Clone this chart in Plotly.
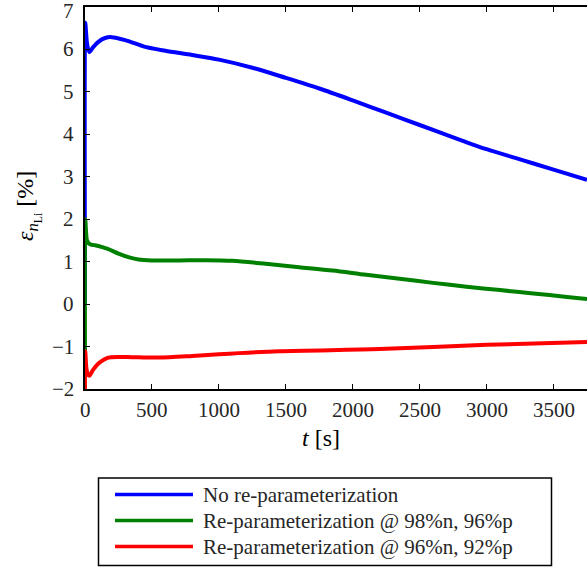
import plotly.graph_objects as go

# Time samples [s] and error in lithium inventory [%] for each case
t_blue = [0, 2, 8, 15, 32, 60, 100, 150, 200, 300, 450, 600, 800, 1000, 1250,
          1500, 1750, 2000, 2250, 2500, 2750, 3000, 3250, 3500, 3750]
e_blue = [0.0, 6.63, 6.4, 6.15, 5.94, 6.05, 6.18, 6.27, 6.29, 6.22, 6.06, 5.97, 5.87,
          5.76, 5.57, 5.33, 5.08, 4.80, 4.51, 4.22, 3.93, 3.65, 3.41, 3.17, 2.93]

t_green = [0, 2, 8, 15, 37, 70, 100, 170, 250, 330, 400, 500, 700, 900, 1100,
           1350, 1600, 1850, 2100, 2350, 2600, 2850, 3100, 3350, 3600, 3750]
e_green = [-1.5, 2.0, 1.7, 1.5, 1.41, 1.39, 1.37, 1.3, 1.19, 1.1, 1.05, 1.03, 1.03,
           1.035, 1.02, 0.95, 0.87, 0.79, 0.69, 0.60, 0.50, 0.41, 0.33, 0.25, 0.17, 0.12]

t_red = [0, 2, 10, 20, 32, 60, 100, 140, 175, 250, 350, 550, 800, 1000, 1450,
         2200, 3000, 3750]
e_red = [-3.0, -1.11, -1.5, -1.65, -1.69, -1.55, -1.40, -1.31, -1.26, -1.245, -1.25,
         -1.26, -1.22, -1.18, -1.11, -1.06, -0.96, -0.89]

names = ["No re-parameterization",
         "Re-parameterization @ 98%n, 96%p",
         "Re-parameterization @ 96%n, 92%p"]
colors = ["#0000FF", "#008000", "#FF0000"]

x_ticks = [0, 500, 1000, 1500, 2000, 2500, 3000, 3500]
y_ticks = [-2, -1, 0, 1, 2, 3, 4, 5, 6, 7]
x_title = "<i>t</i> [s]"
y_title = "<i>ε</i><sub><i>n</i><sub>Li</sub></sub> [%]"

FONT = "Liberation Serif"
TXT = "#262626"

W, H = 587, 567
ML, MT, MB, MR = 85, 7, 178, 0
PW, PH = W - ML - MR, H - MT - MB


def px_x(px):
    return (px - ML) / PW


def px_y(py):
    return (H - MB - py) / PH


fig = go.Figure()
for tt, ee, nm, col in zip([t_blue, t_green, t_red], [e_blue, e_green, e_red], names, colors):
    fig.add_trace(go.Scatter(x=tt, y=ee, mode="lines", name=nm,
                             line=dict(color=col, width=4, shape="spline", smoothing=0.8),
                             showlegend=False))

axis_common = dict(ticks="inside", ticklen=5, tickwidth=1, tickcolor="black",
                   showline=True, linecolor="black", linewidth=1.5,
                   showgrid=False, zeroline=False, automargin=False,
                   showticklabels=False)

fig.update_layout(
    template="none",
    width=W, height=H,
    margin=dict(l=ML, r=MR, t=MT, b=MB, autoexpand=False),
    paper_bgcolor="white", plot_bgcolor="white",
    font=dict(family=FONT, size=21, color=TXT),
    xaxis=dict(range=[0, 3750], tickvals=x_ticks, mirror="ticks", **axis_common),
    yaxis=dict(range=[-2, 7], tickvals=y_ticks, mirror=False, **axis_common),
)

# Tick labels written as text next to the axes
for v in x_ticks:
    fig.add_annotation(xref="x", yref="paper", x=v, y=px_y(409.5),
                       xanchor="center", yanchor="middle", showarrow=False,
                       text=str(v), font=dict(family=FONT, size=21, color=TXT))
for v in y_ticks:
    label = str(v).replace("-", "\u2212")
    fig.add_annotation(xref="paper", yref="y", x=px_x(76), y=v,
                       xanchor="right", yanchor="middle", showarrow=False,
                       yshift=-4 if v == max(y_ticks) else 0,
                       text=label, font=dict(family=FONT, size=21, color=TXT))

# Axis titles
fig.add_annotation(xref="paper", yref="paper", x=px_x(321), y=px_y(438),
                   xanchor="center", yanchor="middle", showarrow=False,
                   text=x_title, font=dict(family=FONT, size=24, color="black"))
fig.add_annotation(xref="paper", yref="paper", x=px_x(28), y=px_y(206),
                   xanchor="center", yanchor="middle", showarrow=False, textangle=-90,
                   text=y_title, font=dict(family=FONT, size=24, color="black"))

# Legend box drawn below the axes
box_l, box_r, box_t, box_b = 98.5, 551.5, 478, 565.5
fig.add_shape(type="rect", xref="paper", yref="paper",
              x0=px_x(box_l), x1=px_x(box_r), y0=px_y(box_b), y1=px_y(box_t),
              line=dict(color="black", width=1.5), fillcolor="white", layer="above")
rows = [494.5, 520.5, 546.5]
for nm, col, ry in zip(names, colors, rows):
    fig.add_shape(type="line", xref="paper", yref="paper",
                  x0=px_x(115), x1=px_x(193), y0=px_y(ry), y1=px_y(ry),
                  line=dict(color=col, width=3.5), layer="above")
    fig.add_annotation(xref="paper", yref="paper", x=px_x(201), y=px_y(ry),
                       xanchor="left", yanchor="middle", showarrow=False,
                       text=nm, font=dict(family=FONT, size=21, color=TXT))

fig.write_html("out.html")
